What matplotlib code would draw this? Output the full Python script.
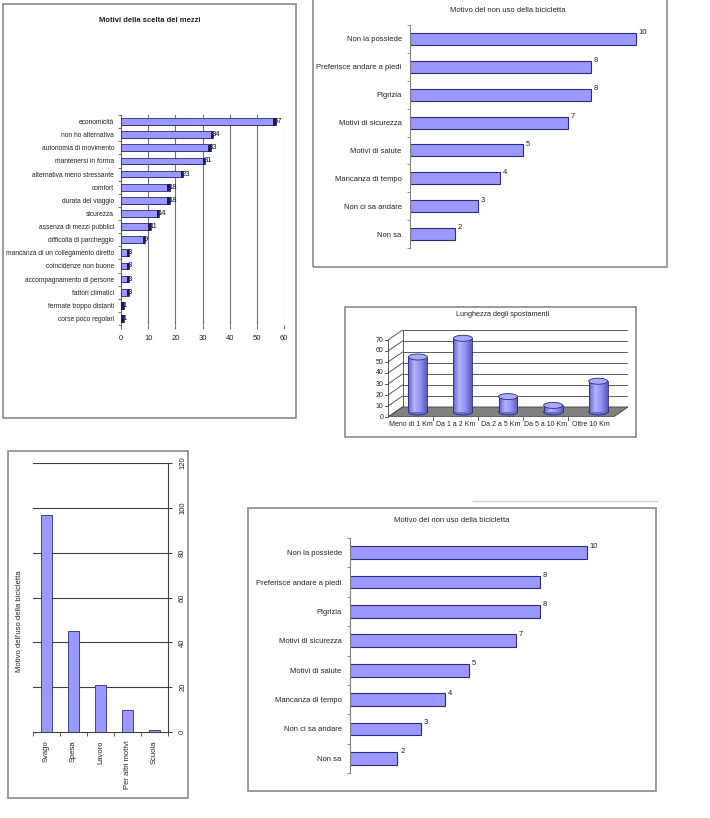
import numpy as np
import matplotlib
matplotlib.use("Agg")
import matplotlib.pyplot as plt
from matplotlib.patches import Rectangle, Ellipse, Polygon
from matplotlib.colors import LinearSegmentedColormap

plt.rcParams["font.family"] = ["Liberation Sans", "DejaVu Sans"]

# ---- data ----
scelta_labels = [
    "economicità", "non ho alternativa", "autonomia di movimento",
    "mantenersi in forma", "alternativa meno stressante", "comfort",
    "durata del viaggio", "sicurezza", "assenza di mezzi pubblici",
    "difficoltà di parcheggio", "mancanza di un collegamento diretto",
    "coincidenze non buone", "accompagnamento di persone",
    "fattori climatici", "fermate troppo distanti", "corse poco regolari",
]
scelta_values = [57, 34, 33, 31, 23, 18, 18, 14, 11, 9, 3, 3, 3, 3, 1, 1]

non_uso_labels = [
    "Non la possiede", "Preferisce andare a piedi", "Pigrizia",
    "Motivi di sicurezza", "Motivi di salute", "Mancanza di tempo",
    "Non ci sa andare", "Non sa",
]
non_uso_values = [10, 8, 8, 7, 5, 4, 3, 2]

lunghezza_labels = ["Meno di 1 Km", "Da 1 a 2 Km", "Da 2 a 5 Km",
                    "Da 5 a 10 Km", "Oltre 10 Km"]
lunghezza_values = [50, 67, 14, 6, 28]

uso_labels = ["Svago", "Spesa", "Lavoro", "Per altri motivi", "Scuola"]
uso_values = [97, 45, 21, 10, 1]

W, H = 710, 818
BAR = "#9999ff"
EDGE = "#2b2b80"
FRAME = "#8a8a8a"
TXT = "#222222"

fig = plt.figure(figsize=(W / 100, H / 100), dpi=100)
fig.patch.set_facecolor("white")


def px_axes(x0, y0, x1, y1):
    return fig.add_axes([x0 / W, 1 - y1 / H, (x1 - x0) / W, (y1 - y0) / H])


def frame(x0, y0, x1, y1, color=FRAME, lw=1.2):
    fig.add_artist(Rectangle((x0 / W, 1 - y1 / H), (x1 - x0) / W, (y1 - y0) / H,
                             transform=fig.transFigure, fill=False,
                             edgecolor=color, linewidth=lw))


def ftext(x, y, s, **kw):
    fig.text(x / W, 1 - y / H, s, **kw)


# ---- panel 1: Motivi della scelta dei mezzi ----
frame(3, 4, 296, 418)
ftext(150, 20, "Motivi della scelta dei mezzi", fontsize=5.5, weight="bold",
      ha="center", va="center", color=TXT)
ax1 = px_axes(121, 115, 284, 325)
n = len(scelta_values)
y = np.arange(n)
vals = np.array(scelta_values)
ax1.set_xlim(0, 60)
ax1.set_ylim(n - 0.5, -0.5)
for g in range(10, 61, 10):
    ax1.axvline(g, color="#707070", lw=0.8, zorder=0)
ax1.barh(y + 0.25, vals, height=0.14, color="#4a4aa0", zorder=2)
ax1.barh(y, vals, height=0.52, color=BAR, edgecolor=EDGE, linewidth=0.6, zorder=3)
ax1.barh(y + 0.04, 0.9, left=vals - 0.9, height=0.56, color="#1c1c5c", zorder=4)
for yi, v in zip(y, vals):
    ax1.text(v - 0.6, yi, str(v), fontsize=5.5, ha="left", va="center",
             color="#111111", zorder=5)
for s in ["top", "right", "bottom"]:
    ax1.spines[s].set_visible(False)
ax1.spines["left"].set_color("#606060")
ax1.set_yticks(y)
ax1.set_yticklabels(scelta_labels, fontsize=4.8, color=TXT)
ax1.set_yticks(np.arange(n + 1) - 0.5, minor=True)
ax1.tick_params(axis="y", which="major", length=0, pad=5)
ax1.tick_params(axis="y", which="minor", length=2.5, color="#606060")
ax1.set_xticks(range(0, 61, 10))
ax1.tick_params(axis="x", length=3, color="#707070", labelsize=5.5,
                labelcolor=TXT, pad=4)


# ---- panels 2 and 5: Motivo del non uso della bicicletta ----
def non_uso(ax, px_per_unit, width_px):
    m = len(non_uso_values)
    yy = np.arange(m)
    ax.set_xlim(0, width_px / px_per_unit)
    ax.set_ylim(m - 0.5, -0.5)
    ax.barh(yy, non_uso_values, height=0.43, color=BAR, edgecolor=EDGE,
            linewidth=0.8)
    for yi, v in zip(yy, non_uso_values):
        ax.text(v + 0.12, yi - 0.22, str(v), fontsize=5.5, ha="left",
                va="center", color=TXT)
    for s in ["top", "right", "bottom"]:
        ax.spines[s].set_visible(False)
    ax.spines["left"].set_color("#808080")
    ax.set_xticks([])
    ax.set_yticks(yy)
    ax.set_yticklabels(non_uso_labels, fontsize=5.5, color=TXT)
    ax.set_yticks(np.arange(m + 1) - 0.5, minor=True)
    ax.tick_params(axis="y", which="major", length=0, pad=6)
    ax.tick_params(axis="y", which="minor", length=2.5, color="#808080")


frame(313, -2, 667, 267)
ftext(508, 10, "Motivo del non uso della bicicletta", fontsize=5.5,
      ha="center", va="center", color=TXT)
ax2 = px_axes(410, 25, 660, 248)
non_uso(ax2, 22.6, 250)

fig.add_artist(plt.Line2D([473 / W, 657 / W], [1 - 501 / H, 1 - 501 / H],
                          transform=fig.transFigure, color="#eac8bc", lw=1))
frame(248, 508, 656, 791)
ftext(452, 521, "Motivo del non uso della bicicletta", fontsize=5.5,
      ha="center", va="center", color=TXT)
ax5 = px_axes(350, 538, 645, 773)
non_uso(ax5, 23.7, 295)

# ---- panel 3: Lunghezza degli spostamenti (3D cylinders) ----
frame(345, 307, 636, 437)
ftext(503, 315, "Lunghezza degli spostamenti", fontsize=5.2,
      ha="center", va="center", color=TXT)
ax3 = px_axes(388, 329, 628, 417)
k = len(lunghezza_values)
dxd, dyd = 0.322, 9.1
ax3.set_xlim(0, k + dxd)
ax3.set_ylim(0, 80)
ax3.axis("off")
ax3.add_patch(Polygon([(0, 0), (k, 0), (k + dxd, dyd), (dxd, dyd)],
                      closed=True, facecolor="#808080", edgecolor="#404040",
                      lw=0.6, zorder=1))
for v in range(0, 71, 10):
    ax3.plot([dxd, k + dxd], [v + dyd, v + dyd], color="#404040", lw=0.6, zorder=0)
    ax3.plot([0, dxd], [v, v + dyd], color="#404040", lw=0.6, zorder=0)
    ax3.plot([-0.07, 0], [v, v], color="#404040", lw=0.6, clip_on=False)
    ax3.text(-0.1, v, str(v), fontsize=5, ha="right", va="center", color=TXT)
ax3.plot([dxd, dxd], [dyd, 70 + dyd], color="#404040", lw=0.6, zorder=0)
ax3.plot([0, 0], [0, 70], color="#404040", lw=0.6, zorder=0)
for i in range(1, k):
    ax3.plot([i, i], [0, -2.5], color="#404040", lw=0.6, clip_on=False)
for i, lab in enumerate(lunghezza_labels):
    ax3.text(i + 0.5, -4, lab, fontsize=5, ha="center", va="top", color=TXT)

cyl_cmap = LinearSegmentedColormap.from_list(
    "cyl", ["#6262c8", "#b4b4ff", "#9090f0", "#5a5abc"])
grad = np.linspace(0, 1, 64).reshape(1, -1)
cw, eh = 0.42, 5.5
for i, v in enumerate(lunghezza_values):
    xc = i + 0.5 + dxd / 2
    base = dyd / 2
    ax3.add_patch(Ellipse((xc, base), cw, eh, facecolor="#6a6ad0",
                          edgecolor=EDGE, lw=0.6, zorder=3))
    body = Rectangle((xc - cw / 2, base), cw, v, transform=ax3.transData)
    im = ax3.imshow(grad, cmap=cyl_cmap, aspect="auto", zorder=4,
                    extent=[xc - cw / 2, xc + cw / 2, base, base + v])
    im.set_clip_path(body)
    ax3.plot([xc - cw / 2] * 2, [base, base + v], color=EDGE, lw=0.6, zorder=5)
    ax3.plot([xc + cw / 2] * 2, [base, base + v], color=EDGE, lw=0.6, zorder=5)
    ax3.add_patch(Ellipse((xc, base + v), cw, eh, facecolor="#a8a8ff",
                          edgecolor=EDGE, lw=0.6, zorder=6))
ax3.set_xlim(0, k + dxd)
ax3.set_ylim(0, 80)

# ---- panel 4: Motivo dell'uso della bicicletta (rotated) ----
frame(8, 451, 188, 798)
ftext(20, 621, "Motivo dell'uso della bicicletta", fontsize=5.5, rotation=90,
      ha="center", va="center", color=TXT)
ax4 = px_axes(33, 463, 168, 732)
c = len(uso_values)
ax4.set_xlim(0, c)
ax4.set_ylim(0, 120)
for g in range(20, 121, 20):
    ax4.axhline(g, color="#404040", lw=0.8, zorder=0)
ax4.bar(np.arange(c) + 0.5, uso_values, width=0.4, color=BAR, edgecolor=EDGE,
        linewidth=0.6, zorder=2)
ax4.spines["top"].set_visible(False)
ax4.spines["left"].set_visible(False)
ax4.spines["right"].set_color("#404040")
ax4.spines["bottom"].set_color("#404040")
ax4.yaxis.tick_right()
ax4.set_yticks(range(0, 121, 20))
ax4.set_yticklabels([str(t) for t in range(0, 121, 20)], rotation=90,
                    va="center", ha="left", fontsize=5.5, color=TXT)
ax4.tick_params(axis="y", length=3, color="#404040", pad=5)
ax4.set_xticks(np.arange(c) + 0.5)
ax4.set_xticklabels(uso_labels, rotation=90, ha="center", va="top",
                    fontsize=5.5, color=TXT)
ax4.set_xticks(np.arange(c + 1), minor=True)
ax4.tick_params(axis="x", which="major", length=0, pad=6)
ax4.tick_params(axis="x", which="minor", length=3, color="#404040")

fig.savefig("out.png", dpi=100)
